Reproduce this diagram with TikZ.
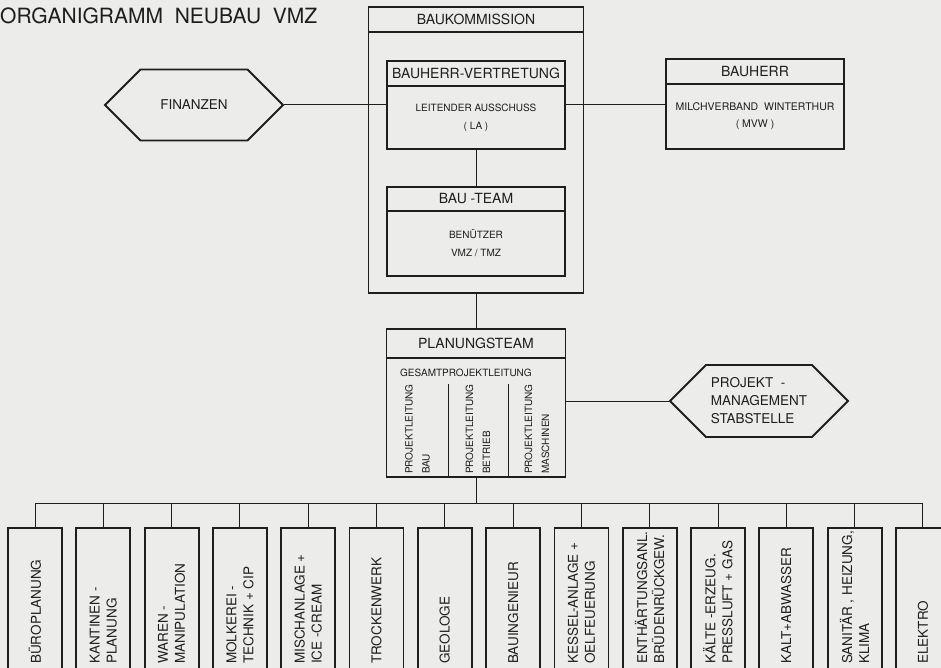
\documentclass[tikz,border=0pt]{standalone}
\usepackage{fontspec}
\setmainfont{TeX Gyre Heros}
\usetikzlibrary{
  positioning,
  shapes.symbols,
}
\definecolor{tusche}{RGB}{30,30,30}
\definecolor{papier}{RGB}{236,236,234}
\tikzstyle{kasten} = [rectangle, draw=tusche, line width=1.8pt, outer sep=0pt, inner sep=0pt, text=tusche]
\tikzstyle{kopf} = [kasten, font=\fontsize{14}{16}\selectfont]
\tikzstyle{rumpf} = [kasten, align=center, font=\fontsize{10}{18}\selectfont]
\tikzstyle{sechseck} = [signal, signal to=west and east, signal pointer angle=90, draw=tusche, line width=1.8pt, inner sep=0pt, text=tusche, font=\fontsize{13.5}{18}\selectfont]
\tikzstyle{spalte} = [rotate=90, anchor=west, align=left, inner sep=0pt, text=tusche, font=\fontsize{10}{17}\selectfont]
\tikzstyle{fach} = [kasten, minimum width=54, minimum height=144]
\tikzstyle{fachtext} = [rotate=90, anchor=west, align=left, inner sep=0pt, text=tusche, font=\fontsize{13.5}{17}\selectfont]
\tikzstyle{linie} = [draw=tusche, line width=1pt]

\begin{document}
\begin{tikzpicture}[x=1pt, y=-1pt, node distance=0pt and 14.3pt]
      \useasboundingbox (0,0) rectangle (941,668);
      \fill[papier] (0,0) rectangle (941,668);

      \node[anchor=west, inner sep=0pt, text=tusche, font=\fontsize{21}{24}\selectfont] (titel) at (0,16) {ORGANIGRAMM\ \ NEUBAU\ \ VMZ};

      % Baukommission mit Bauherr-Vertretung und Bau-Team
      \node[kopf, line width=1.3pt, minimum width=215, minimum height=25] (bk1) at (476,19.5) {BAUKOMMISSION};
      \node[kasten, line width=1.3pt, minimum width=215, minimum height=261] (bk2) [below=of bk1] {};

      \node[kopf, minimum width=178, minimum height=25] (bv1) at (476,73.5) {BAUHERR-VERTRETUNG};
      \node[rumpf, minimum width=178, minimum height=63] (bv2) [below=of bv1] {LEITENDER AUSSCHUSS\\( LA )};

      \node[kopf, minimum width=178, minimum height=24] (bt1) [below=38pt of bv2] {BAU -TEAM};
      \node[rumpf, minimum width=178, minimum height=65] (bt2) [below=of bt1] {BENÜTZER\\VMZ / TMZ};

      \node[kopf, minimum width=178, minimum height=25] (bh1) at (755,71.5) {BAUHERR};
      \node[rumpf, minimum width=178, minimum height=65, font=\fontsize{10.5}{17}\selectfont] (bh2) [below=of bh1] {MILCHVERBAND\ \ WINTERTHUR\\( MVW )};

      \node[sechseck, minimum width=178, minimum height=71] (fin) at (194,105) {FINANZEN};

      % Planungsteam
      \node[kopf, minimum width=179, minimum height=29] (pt1) [below=36pt of bk2] {PLANUNGSTEAM};
      \node[kasten, minimum width=179, minimum height=119] (pt2) [below=of pt1] {};
      \node[anchor=west, inner sep=0pt, text=tusche, font=\fontsize{10}{12}\selectfont] (gpl) at (400,373) {GESAMTPROJEKTLEITUNG};
      \coordinate (sp1) at (448,384);
      \coordinate (sp2) at (508,384);
      \node[spalte] (pl1) at (417.5,474) {PROJEKTLEITUNG\\BAU};
      \node[spalte] (pl2) at (478,474) {PROJEKTLEITUNG\\BETRIEB};
      \node[spalte] (pl3) at (537,474) {PROJEKTLEITUNG\\MASCHINEN};

      \node[sechseck, minimum width=178, minimum height=72, align=left] (pm) at (759,401) {PROJEKT\ \ -\\MANAGEMENT\\STABSTELLE};

      % Fachplaner
      \node[fach] (fach1) at (35,600) {};
      \node[fach] (fach2) [right=of fach1] {};
      \node[fach] (fach3) [right=of fach2] {};
      \node[fach] (fach4) [right=of fach3] {};
      \node[fach] (fach5) [right=of fach4] {};
      \node[fach] (fach6) [right=of fach5] {};
      \node[fach] (fach7) [right=of fach6] {};
      \node[fach] (fach8) [right=of fach7] {};
      \node[fach] (fach9) [right=of fach8] {};
      \node[fach] (fach10) [right=of fach9] {};
      \node[fach] (fach11) [right=of fach10] {};
      \node[fach] (fach12) [right=of fach11] {};
      \node[fach] (fach13) [right=of fach12] {};
      \node[fach] (fach14) [right=of fach13] {};

      \node[fachtext] (txt1) at ([yshift=8pt]fach1.south) {BÜROPLANUNG};
      \node[fachtext] (txt2) at ([yshift=8pt]fach2.south) {KANTINEN -\\PLANUNG};
      \node[fachtext] (txt3) at ([yshift=8pt]fach3.south) {WAREN -\\MANIPULATION};
      \node[fachtext] (txt4) at ([yshift=8pt]fach4.south) {MOLKEREI -\\TECHNIK + CIP};
      \node[fachtext] (txt5) at ([yshift=8pt]fach5.south) {MISCHANLAGE +\\ICE -CREAM};
      \node[fachtext] (txt6) at ([yshift=8pt]fach6.south) {TROCKENWERK};
      \node[fachtext] (txt7) at ([yshift=8pt]fach7.south) {GEOLOGE};
      \node[fachtext] (txt8) at ([yshift=8pt]fach8.south) {BAUINGENIEUR};
      \node[fachtext] (txt9) at ([yshift=8pt]fach9.south) {KESSEL-ANLAGE +\\OELFEUERUNG};
      \node[fachtext] (txt10) at ([yshift=8pt]fach10.south) {ENTHÄRTUNGSANL.\\BRÜDENRÜCKGEW.};
      \node[fachtext] (txt11) at ([yshift=8pt]fach11.south) {KÄLTE -ERZEUG.\\PRESSLUFT + GAS};
      \node[fachtext] (txt12) at ([yshift=8pt]fach12.south) {KALT+ABWASSER};
      \node[fachtext] (txt13) at ([yshift=8pt]fach13.south) {SANITÄR , HEIZUNG,\\KLIMA};
      \node[fachtext] (txt14) at ([yshift=8pt]fach14.south) {ELEKTRO};

      \coordinate (bus) at (476,503);

      \draw[linie] (fin.east) -- (fin.east -| bv2.west);
      \draw[linie] (bv2.east |- fin.east) -- (fin.east -| bh2.west);
      \draw[linie] (bv2.south) -- (bt1.north);
      \draw[linie] (bk2.south) -- (pt1.north);
      \draw[linie] (sp1) -- (sp1 |- pt2.south);
      \draw[linie] (sp2) -- (sp2 |- pt2.south);
      \draw[linie] (pm.west -| pt2.east) -- (pm.west);
      \draw[linie] (pt2.south) -- (bus);
      \draw[linie] (bus -| fach1.north) -- (bus -| fach14.north);

      \draw[linie] (bus -| fach1.north) -- (fach1.north);
      \draw[linie] (bus -| fach2.north) -- (fach2.north);
      \draw[linie] (bus -| fach3.north) -- (fach3.north);
      \draw[linie] (bus -| fach4.north) -- (fach4.north);
      \draw[linie] (bus -| fach5.north) -- (fach5.north);
      \draw[linie] (bus -| fach6.north) -- (fach6.north);
      \draw[linie] (bus -| fach7.north) -- (fach7.north);
      \draw[linie] (bus -| fach8.north) -- (fach8.north);
      \draw[linie] (bus -| fach9.north) -- (fach9.north);
      \draw[linie] (bus -| fach10.north) -- (fach10.north);
      \draw[linie] (bus -| fach11.north) -- (fach11.north);
      \draw[linie] (bus -| fach12.north) -- (fach12.north);
      \draw[linie] (bus -| fach13.north) -- (fach13.north);
      \draw[linie] (bus -| fach14.north) -- (fach14.north);

\end{tikzpicture}
\end{document}
